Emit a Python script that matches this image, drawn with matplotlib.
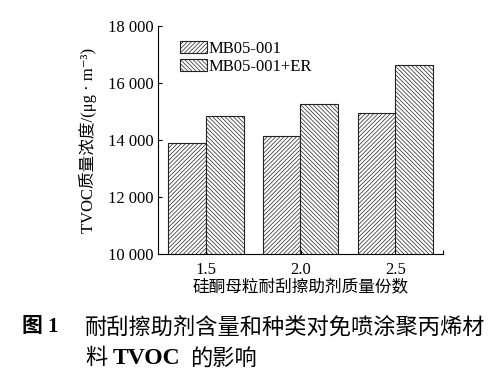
import numpy as np
import matplotlib
matplotlib.use('Agg')
import matplotlib.pyplot as plt

fonts = ['Liberation Serif', 'Noto Sans CJK SC', 'DejaVu Serif']
plt.rcParams['font.family'] = fonts
plt.rcParams['hatch.linewidth'] = 0.5
plt.rcParams['hatch.color'] = '#444444'

categories = ['1.5', '2.0', '2.5']
mb05_001 = [13880, 14140, 14960]
mb05_001_er = [14850, 15250, 16650]
series_names = ['MB05-001', 'MB05-001+ER']
yticks = [10000, 12000, 14000, 16000, 18000]
ytick_labels = ['10 000', '12 000', '14 000', '16 000', '18 000']

fig = plt.figure(figsize=(5, 3.78), dpi=100)
ax = fig.add_axes([0.316, 0.328, 0.57, 0.603])

x = np.arange(len(categories))
w = 0.4
ax.bar(x - w / 2, mb05_001, w, color='white', edgecolor='#222222',
       linewidth=0.8, hatch='/' * 8, label=series_names[0])
ax.bar(x + w / 2, mb05_001_er, w, color='white', edgecolor='#222222',
       linewidth=0.8, hatch='\\' * 8, label=series_names[1])

ax.set_ylim(10000, 18000)
ax.set_xlim(-0.5, 2.5)
ax.set_yticks(yticks)
ax.set_yticklabels(ytick_labels, fontsize=12)
ax.set_xticks(x)
ax.set_xticklabels(categories, fontsize=12)
ax.set_xticks([2.5], minor=True)
ax.tick_params(direction='in', length=3, width=0.8)
ax.tick_params(axis='x', pad=6)
ax.tick_params(axis='y', pad=3)
ax.tick_params(which='minor', direction='in', length=3, width=0.8)
ax.spines['top'].set_visible(False)
ax.spines['right'].set_visible(False)

ax.set_ylabel('TVOC质量浓度/(μg · m⁻³)', fontsize=12, labelpad=8)
ax.set_xlabel('硅酮母粒耐刮擦助剂质量份数', fontsize=12, labelpad=1)

ax.legend(loc='upper left', bbox_to_anchor=(0.042, 0.98), frameon=False,
          fontsize=12, handlelength=1.6, handleheight=0.75,
          handletextpad=0.1, labelspacing=0.12, borderaxespad=0.2)

cap_y1 = 1 - 327 / 378
cap_y2 = 1 - 358 / 378
fig.text(22 / 500, cap_y1, '图 1', fontsize=15, fontweight='bold', va='center')
fig.text(85 / 500, cap_y1, '耐刮擦助剂含量和种类对免喷涂聚丙烯材', fontsize=16,
         va='center', family=['Noto Sans CJK SC'])
fig.text(85 / 500, cap_y2, '料', fontsize=16, va='center',
         family=['Noto Sans CJK SC'])
fig.text(113 / 500, cap_y2, 'TVOC', fontsize=17, fontweight='bold',
         va='center', family=['Liberation Serif'])
fig.text(190 / 500, cap_y2, '的影响', fontsize=16, va='center',
         family=['Noto Sans CJK SC'])

fig.savefig('out.png', dpi=100)
